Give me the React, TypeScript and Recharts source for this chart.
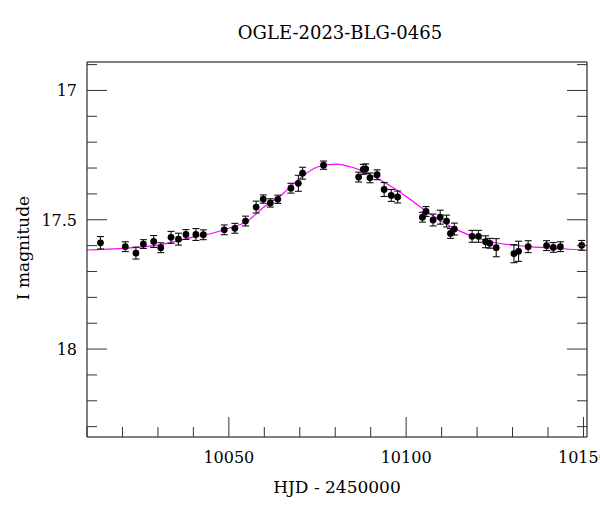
import { ComposedChart, Line, Scatter, XAxis, YAxis, ErrorBar, Label } from "recharts";

const obsDays = [
  10013.8, 10020.8, 10023.8, 10025.9, 10028.8, 10030.8, 10033.7, 10035.8, 10037.9, 10040.7,
  10042.8, 10048.7, 10051.7, 10054.7, 10057.7, 10059.7, 10061.7, 10063.8, 10067.5, 10069.6,
  10070.8, 10076.7, 10086.6, 10087.9, 10088.6, 10089.8, 10091.8, 10093.8, 10095.8, 10097.6,
  10104.6, 10105.6, 10107.6, 10109.6, 10111.4, 10112.5, 10113.6, 10118.6, 10120.4, 10122.4,
  10123.6, 10125.4, 10130.4, 10131.7, 10134.4, 10139.6, 10141.5, 10143.5, 10149.5,
];
const obsMags = [
  17.589, 17.604, 17.629, 17.594, 17.584, 17.608, 17.568, 17.575, 17.557, 17.557,
  17.558, 17.539, 17.533, 17.505, 17.451, 17.42, 17.435, 17.421, 17.378, 17.359,
  17.32, 17.289, 17.335, 17.305, 17.303, 17.338, 17.326, 17.383, 17.406, 17.412,
  17.49, 17.468, 17.501, 17.49, 17.505, 17.553, 17.536, 17.564, 17.564, 17.585,
  17.591, 17.608, 17.631, 17.622, 17.604, 17.6, 17.607, 17.604, 17.599,
];
const obsErrs = [
  0.024, 0.019, 0.023, 0.017, 0.023, 0.019, 0.023, 0.023, 0.019, 0.023,
  0.019, 0.019, 0.019, 0.019, 0.023, 0.016, 0.016, 0.016, 0.019, 0.031,
  0.023, 0.016, 0.019, 0.019, 0.019, 0.019, 0.019, 0.027, 0.023, 0.023,
  0.019, 0.019, 0.023, 0.027, 0.023, 0.019, 0.023, 0.023, 0.023, 0.023,
  0.019, 0.035, 0.035, 0.039, 0.023, 0.019, 0.019, 0.019, 0.019,
];

// model curve
const modelDays = [
  10010, 10020, 10030, 10040, 10045, 10050, 10055, 10060, 10065, 10070, 10075, 10080,
  10085, 10090, 10095, 10100, 10105, 10110, 10115, 10120, 10125, 10135, 10145, 10151,
];
const modelMags = [
  17.617, 17.611, 17.598, 17.567, 17.553, 17.533, 17.507, 17.45, 17.402, 17.34, 17.296, 17.285,
  17.298, 17.326, 17.365, 17.41, 17.46, 17.506, 17.543, 17.57, 17.588, 17.604, 17.613, 17.618,
];

const xTicks = [10010, 10020, 10030, 10040, 10050, 10060, 10070, 10080, 10090, 10100, 10110, 10120, 10130, 10140, 10150];
const xLabels = [10050, 10100, 10150];
const yTicks = [16.9, 17, 17.1, 17.2, 17.3, 17.4, 17.5, 17.6, 17.7, 17.8, 17.9, 18, 18.1, 18.2, 18.3];
const yLabels = [17, 17.5, 18];

const obs = obsDays.map((d, i) => ({ day: d, mag: obsMags[i], err: obsErrs[i] }));
const model = modelDays.map((d, i) => ({ day: d, mag: modelMags[i] }));

const FONT = "DejaVu Serif";
const TICK = "#333";

const isLabelled = (list: number[], v: number) => list.some((t) => Math.abs(t - v) < 1e-6);

const xTick = (side: "bottom" | "top") => (props: any) => {
  const { x, y, payload } = props;
  const v = payload.value;
  const major = isLabelled(xLabels, v);
  const len = major ? 20 : 10;
  const dir = side === "bottom" ? -1 : 1;
  return (
    <g>
      <line x1={x} x2={x} y1={y} y2={y + dir * len} stroke={TICK} strokeWidth={1} />
      {side === "bottom" && major && (
        <text x={x} y={y + 26} textAnchor="middle" fontFamily={FONT} fontSize={16} fill="#000">
          {v}
        </text>
      )}
    </g>
  );
};

const yTick = (side: "left" | "right") => (props: any) => {
  const { x, y, payload } = props;
  const v = payload.value;
  const major = isLabelled(yLabels, v);
  const len = major ? 20 : 10;
  const dir = side === "left" ? 1 : -1;
  return (
    <g>
      <line x1={x} x2={x + dir * len} y1={y} y2={y} stroke={TICK} strokeWidth={1} />
      {side === "left" && major && (
        <text x={x - 10} y={y + 6} textAnchor="end" fontFamily={FONT} fontSize={16} fill="#000">
          {v}
        </text>
      )}
    </g>
  );
};

const dot = (props: any) => <circle cx={props.cx} cy={props.cy} r={3.4} fill="#000" />;

export default function App() {
  return (
    <div style={{ position: "absolute", left: 0, top: 0 }}>
      <ComposedChart width={600} height={512} margin={{ top: 0, right: 0, bottom: 0, left: 0 }}>
        <XAxis
          xAxisId="b"
          dataKey="day"
          type="number"
          orientation="bottom"
          domain={[10010, 10151]}
          allowDataOverflow
          ticks={xTicks}
          interval={0}
          height={75}
          tickSize={0}
          tickMargin={0}
          tickLine={false}
          tick={xTick("bottom")}
          axisLine={{ stroke: "#000" }}
        >
          <Label
            content={() => (
              <text x={337} y={493} textAnchor="middle" fontFamily={FONT} fontSize={17} fill="#000">
                HJD - 2450000
              </text>
            )}
          />
        </XAxis>
        <XAxis
          xAxisId="t"
          type="number"
          orientation="top"
          domain={[10010, 10151]}
          allowDataOverflow
          ticks={xTicks}
          interval={0}
          height={62}
          tickSize={0}
          tickMargin={0}
          tickLine={false}
          tick={xTick("top")}
          axisLine={{ stroke: "#000" }}
        >
          <Label
            content={() => (
              <text x={340} y={39} textAnchor="middle" fontFamily={FONT} fontSize={18} fill="#000">
                OGLE-2023-BLG-0465
              </text>
            )}
          />
        </XAxis>
        <YAxis
          yAxisId="l"
          dataKey="mag"
          type="number"
          orientation="left"
          reversed
          domain={[16.89, 18.34]}
          allowDataOverflow
          ticks={yTicks}
          interval={0}
          width={87}
          tickSize={0}
          tickMargin={0}
          tickLine={false}
          tick={yTick("left")}
          axisLine={{ stroke: "#000" }}
        >
          <Label
            content={() => (
              <text
                x={23}
                y={248}
                transform="rotate(-90 23 248)"
                textAnchor="middle"
                dominantBaseline="central"
                fontFamily={FONT}
                fontSize={17}
                fill="#000"
              >
                I magnitude
              </text>
            )}
          />
        </YAxis>
        <YAxis
          yAxisId="r"
          type="number"
          orientation="right"
          reversed
          domain={[16.89, 18.34]}
          allowDataOverflow
          ticks={yTicks}
          interval={0}
          width={13}
          tickSize={0}
          tickMargin={0}
          tickLine={false}
          tick={yTick("right")}
          axisLine={{ stroke: "#000" }}
        />
        <Line
          xAxisId="b"
          yAxisId="l"
          data={model}
          dataKey="mag"
          type="monotone"
          stroke="#ff00ff"
          strokeWidth={1.2}
          dot={false}
          activeDot={false}
          isAnimationActive={false}
        />
        <Scatter
          xAxisId="b"
          yAxisId="l"
          data={obs}
          dataKey="mag"
          shape={dot}
          isAnimationActive={false}
        >
          <ErrorBar dataKey="err" direction="y" width={3.5} stroke="#111" strokeWidth={1.1} isAnimationActive={false} />
        </Scatter>
      </ComposedChart>
    </div>
  );
}
